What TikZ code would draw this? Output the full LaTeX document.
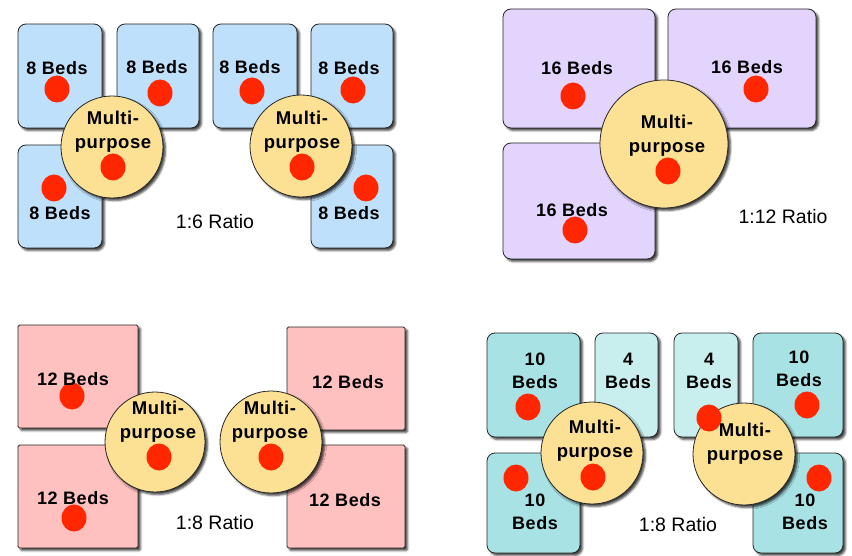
\documentclass[tikz,border=0pt]{standalone}
\usepackage{fontspec}
\setmainfont{Liberation Sans}
\newfontfamily\boldspaced[LetterSpace=3]{Liberation Sans}
\usetikzlibrary{shadows.blur}
\definecolor{roomblue}{RGB}{190,224,250}
\definecolor{roompurple}{RGB}{226,212,252}
\definecolor{roompink}{RGB}{255,192,192}
\definecolor{roomteal}{RGB}{168,226,228}
\definecolor{roomtealL}{RGB}{200,238,238}
\definecolor{mpyellow}{RGB}{252,224,148}
\definecolor{dotred}{RGB}{255,38,0}
\tikzset{
  shade/.style={blur shadow={shadow xshift=2.5pt,shadow yshift=-2.5pt,shadow blur radius=2pt,shadow opacity=75}},
  room/.style={draw=black!85,line width=0.8pt,shade},
  hub/.style={draw=black!85,line width=0.8pt,fill=mpyellow,shade},
  bedtext/.style={font=\boldspaced\fontsize{18}{24}\selectfont\bfseries,align=center,inner sep=0pt},
  bedtextb/.style={font=\boldspaced\fontsize{18}{23}\selectfont\bfseries,align=center,inner sep=0pt},
  mptext/.style={font=\boldspaced\fontsize{18.5}{24}\selectfont\bfseries,align=center,inner sep=0pt},
  ratiotext/.style={font=\fontsize{19.5}{24}\selectfont,inner sep=0pt},
  reddot/.style={fill=dotred,draw=none},
}
\newcommand{\rdot}[2]{\fill[reddot] (#1,#2) ellipse [x radius=12.5,y radius=13.5];}
\begin{document}
\begin{tikzpicture}[x=1pt,y=-1pt]
\useasboundingbox (0,0) rectangle (852,556);
% ---------- top-left: 1:6 ----------
\begin{scope}[every path/.append style={rounded corners=8pt}]
\path[room,fill=roomblue] (18,24) rectangle (102,128);
\path[room,fill=roomblue] (117,24) rectangle (199,128);
\path[room,fill=roomblue] (213,24) rectangle (297,128);
\path[room,fill=roomblue] (311,24) rectangle (393,128);
\path[room,fill=roomblue] (18,145) rectangle (102,248);
\path[room,fill=roomblue] (311,145) rectangle (393,248);
\end{scope}
\path[hub] (112,147) circle [radius=51];
\path[hub] (301,146) circle [radius=51];
\rdot{57}{89}\rdot{160}{93}\rdot{252}{91}\rdot{353}{90}\rdot{54}{188}\rdot{366}{188}
\rdot{113}{167}\rdot{302}{167}
\node[bedtext] (t1a) at (57,68) {8 Beds};
\node[bedtext] (t1b) at (157,67) {8 Beds};
\node[bedtext] (t1c) at (250,67) {8 Beds};
\node[bedtext] (t1d) at (349,68) {8 Beds};
\node[bedtext] (t1e) at (60,213) {8 Beds};
\node[bedtext] (t1f) at (349,213) {8 Beds};
\node[mptext] (m1a) at (113,132) {Multi-\\purpose};
\node[mptext] (m1b) at (302,132) {Multi-\\purpose};
\node[ratiotext] (r1) at (215,222) {1:6 Ratio};
% ---------- top-right: 1:12 ----------
\begin{scope}[every path/.append style={rounded corners=8pt}]
\path[room,fill=roompurple] (503,9) rectangle (655,128);
\path[room,fill=roompurple] (668,9) rectangle (816,128);
\path[room,fill=roompurple] (503,143) rectangle (655,259);
\end{scope}
\path[hub] (664,144) circle [radius=64];
\rdot{573}{96}\rdot{756}{89}\rdot{575}{230}\rdot{668}{171}
\node[bedtext] (t2a) at (577,68) {16 Beds};
\node[bedtext] (t2b) at (747,67) {16 Beds};
\node[bedtext] (t2c) at (572,210) {16 Beds};
\node[mptext] (m2) at (667,136) {Multi-\\purpose};
\node[ratiotext] (r2) at (783,217) {1:12 Ratio};
% ---------- bottom-left: 1:8 ----------
\begin{scope}[every path/.append style={rounded corners=1.5pt}]
\path[room,fill=roompink] (18,325) rectangle (138,428);
\path[room,fill=roompink] (18,445) rectangle (138,548);
\path[room,fill=roompink] (287,327) rectangle (405,430);
\path[room,fill=roompink] (287,445) rectangle (405,548);
\end{scope}
\path[hub] (155,442) circle [radius=50];
\path[hub] (271,442) circle [radius=51];
\rdot{72}{396}\rdot{74}{518}\rdot{159}{457}\rdot{271}{457}
\node[bedtext] (t3a) at (73,379) {12 Beds};
\node[bedtext] (t3b) at (73,498) {12 Beds};
\node[bedtext] (t3c) at (348,382) {12 Beds};
\node[bedtext] (t3d) at (345,500) {12 Beds};
\node[mptext] (m3a) at (158,422) {Multi-\\purpose};
\node[mptext] (m3b) at (270,422) {Multi-\\purpose};
\node[ratiotext] (r3) at (215,523) {1:8 Ratio};
% ---------- bottom-right: 1:8 ----------
\begin{scope}[every path/.append style={rounded corners=8pt}]
\path[room,fill=roomteal] (487,333) rectangle (580,437);
\path[room,fill=roomtealL] (595,333) rectangle (658,437);
\path[room,fill=roomtealL] (674,333) rectangle (738,437);
\path[room,fill=roomteal] (753,333) rectangle (843,437);
\path[room,fill=roomteal] (487,453) rectangle (580,553);
\path[room,fill=roomteal] (753,453) rectangle (843,553);
\end{scope}
\path[hub] (592,453) circle [radius=51];
\path[hub] (744,454) circle [radius=51];
\rdot{528}{407}\rdot{709}{418}\rdot{807}{405}\rdot{516}{478}\rdot{819}{478}\rdot{593}{477}
\node[bedtextb] (t4a) at (535,371) {10\\Beds};
\node[bedtextb] (t4b) at (628,371) {4\\Beds};
\node[bedtextb] (t4c) at (709,371) {4\\Beds};
\node[bedtextb] (t4d) at (799,369) {10\\Beds};
\node[bedtextb] (t4e) at (535,512) {10\\Beds};
\node[bedtextb] (t4f) at (805,512) {10\\Beds};
\node[mptext] (m4a) at (595,441) {Multi-\\purpose};
\node[mptext] (m4b) at (745,444) {Multi-\\purpose};
\node[ratiotext] (r4) at (678,525) {1:8 Ratio};
\end{tikzpicture}
\end{document}
